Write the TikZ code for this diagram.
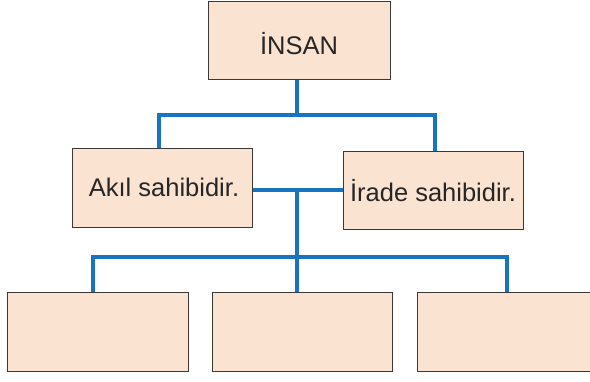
\documentclass[tikz,border=0pt]{standalone}
\usepackage{fontspec}
\setmainfont{Liberation Sans}
\definecolor{boxfill}{HTML}{FBE3D2}
\definecolor{boxline}{HTML}{3A3838}
\definecolor{linkblue}{HTML}{1874C0}
\begin{document}
\begin{tikzpicture}[x=1pt,y=-1pt,
  box/.style={draw=boxline,line width=1pt,fill=boxfill,inner sep=0pt,text depth=0pt,
    font=\fontsize{25.5}{30}\selectfont,text=black!85},
  link/.style={draw=linkblue,line width=3.3pt}]
\useasboundingbox (0,0) rectangle (590,381);
\fill[white] (0,0) rectangle (590,381);
\coordinate (j1) at (297,115);
\coordinate (j2) at (297,257);
% boxes
\node[box,minimum width=182pt,minimum height=78pt] (top) at (299,40) {\raisebox{-6pt}{İNSAN}};
\node[box,minimum width=180pt,minimum height=79pt] (akil) at (162,187.5) {\hspace*{4pt}Akıl sahibidir.};
\node[box,minimum width=180pt,minimum height=78pt] (irade) at (433,190) {\raisebox{-1pt}{İrade sahibidir.}};
\node[box,minimum width=181pt,minimum height=79pt] (b1) at (97.5,331.5) {};
\node[box,minimum width=180pt,minimum height=79pt] (b2) at (302,331.5) {};
\node[box,minimum width=176pt,minimum height=79pt] (b3) at (505,331.5) {};
% connectors
\draw[link] (top.south -| j1) -- (j1);
\draw[link] ([xshift=-3pt]akil.north) |- (j1) -| ([xshift=2pt]irade.north);
\draw[link] (akil.east |- irade.west) -- (irade.west);
\draw[link] (j2 |- irade.west) -- (j2);
\draw[link] ([xshift=-4.5pt]b1.north) |- (j2) -| ([xshift=2pt]b3.north);
\draw[link] (j2) -- (j2 |- b2.north);
\end{tikzpicture}
\end{document}
